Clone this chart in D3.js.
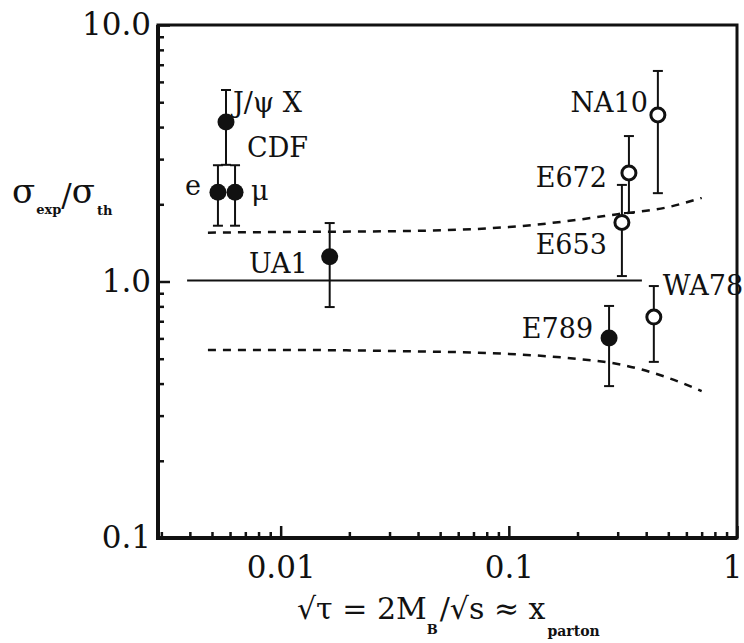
<!DOCTYPE html>
<html>
<head>
<meta charset="utf-8">
<script src="https://cdn.jsdelivr.net/npm/d3@7"></script>
<style>
  body { margin: 0; background: #fff; }
</style>
</head>
<body>
<script>
var width = 744, height = 643;
var FONT = "DejaVu Serif";

var names  = ["J/ψ X", "e", "μ", "UA1", "E789", "E653", "E672", "WA78", "NA10"];
var xVals  = [0.00576, 0.00531, 0.00631, 0.0164, 0.275, 0.313, 0.336, 0.432, 0.450];
var yVals  = [4.19, 2.23, 2.23, 1.25, 0.602, 1.70, 2.65, 0.727, 4.46];
var yLow   = [2.85, 1.65, 1.65, 0.795, 0.391, 1.05, 1.85, 0.486, 2.21];
var yHigh  = [5.58, 2.84, 2.84, 1.69, 0.803, 2.38, 3.69, 0.96, 6.62];
var filled = [true, true, true, true, true, false, false, false, false];

// theory band
var bandX     = [0.0048, 0.01, 0.03, 0.1, 0.2, 0.3, 0.5, 0.7];
var bandUpper = [1.55, 1.56, 1.57, 1.63, 1.74, 1.83, 1.95, 2.12];
var bandLower = [0.541, 0.541, 0.536, 0.522, 0.499, 0.477, 0.421, 0.374];
var centralX  = [0.00389, 0.383];
var centralY  = [1.01, 1.01];

var xTicks = [0.01, 0.1, 1], xTickLabels = ["0.01", "0.1", "1"];
var yTicks = [0.1, 1, 10],   yTickLabels = ["0.1", "1.0", "10.0"];

// label placement relative to each point (style only)
var labelPos = {
  "J/ψ X": {dx: 7,   dy: -10, anchor: "start"},
  "e":     {dx: -17, dy: 3,   anchor: "end"},
  "μ":     {dx: 16,  dy: 8,   anchor: "start"},
  "UA1":   {dx: -22, dy: 16,  anchor: "end"},
  "E789":  {dx: -16, dy: 0,   anchor: "end"},
  "E653":  {dx: -15, dy: 32,  anchor: "end"},
  "E672":  {dx: -22, dy: 14,  anchor: "end"},
  "WA78":  {dx: 9,   dy: -22, anchor: "start"},
  "NA10":  {dx: -10, dy: -3,  anchor: "end"}
};

var svg = d3.select("body").append("svg")
    .attr("width", width)
    .attr("height", height);

var x = d3.scaleLog().domain([0.0029, 1]).range([158, 737]);
var y = d3.scaleLog().domain([0.1, 10]).range([538, 25]);

// minor tick values
var xMinor = [], yMinor = [];
[0.001, 0.01, 0.1].forEach(function(d) {
  for (var k = 2; k <= 9; k++) if (d * k >= 0.0029) xMinor.push(d * k);
});
[0.1, 1].forEach(function(d) {
  for (var k = 2; k <= 9; k++) yMinor.push(d * k);
});

// frame
svg.append("rect")
    .attr("x", x.range()[0]).attr("y", y.range()[1])
    .attr("width", x.range()[1] - x.range()[0])
    .attr("height", y.range()[0] - y.range()[1])
    .attr("fill", "none").attr("stroke", "#111").attr("stroke-width", 3);

function styleAxis(g) {
  g.attr("font-family", FONT);
  g.select(".domain").remove();
  g.selectAll("line").attr("stroke", "#111").attr("stroke-width", 2.5);
  g.selectAll("text").attr("font-family", FONT).attr("font-size", 31).attr("fill", "#111");
}

svg.append("g").attr("transform", "translate(" + x.range()[0] + ",0)")
    .call(d3.axisLeft(y).tickValues(yMinor).tickSize(-6).tickFormat(""))
    .call(styleAxis);
svg.append("g").attr("transform", "translate(" + x.range()[0] + ",0)")
    .call(d3.axisLeft(y).tickValues(yTicks).tickSize(-12).tickPadding(7)
      .tickFormat(function(d, i) { return yTickLabels[i]; }))
    .call(styleAxis);

svg.append("g").attr("transform", "translate(0," + y.range()[0] + ")")
    .call(d3.axisBottom(x).tickValues(xMinor).tickSize(-6).tickFormat(""))
    .call(styleAxis);
var xAxisG = svg.append("g").attr("transform", "translate(0," + y.range()[0] + ")")
    .call(d3.axisBottom(x).tickValues(xTicks).tickSize(-12).tickPadding(18)
      .tickFormat(function(d, i) { return xTickLabels[i]; }))
    .call(styleAxis);
// keep the last label inside the page
xAxisG.selectAll("text").filter(function(d) { return d === 1; }).attr("dx", -5);

// heavier left and bottom axis lines
svg.append("line").attr("x1", x.range()[0]).attr("x2", x.range()[0])
    .attr("y1", y.range()[1]).attr("y2", y.range()[0] + 2)
    .attr("stroke", "#111").attr("stroke-width", 4);
svg.append("line").attr("x1", x.range()[0]).attr("x2", x.range()[1])
    .attr("y1", y.range()[0]).attr("y2", y.range()[0])
    .attr("stroke", "#111").attr("stroke-width", 4);

// theory curves
var line = d3.line()
    .x(function(d) { return x(d[0]); })
    .y(function(d) { return y(d[1]); })
    .curve(d3.curveMonotoneX);

svg.append("path")
    .attr("d", line(d3.zip(centralX, centralY)))
    .attr("fill", "none").attr("stroke", "#111").attr("stroke-width", 2);

[bandUpper, bandLower].forEach(function(b) {
  svg.append("path")
      .attr("d", line(d3.zip(bandX, b)))
      .attr("fill", "none").attr("stroke", "#111")
      .attr("stroke-width", 2.5).attr("stroke-dasharray", "8,7");
});

// data points
var pts = names.map(function(n, i) {
  return {name: n, x: xVals[i], y: yVals[i], lo: yLow[i], hi: yHigh[i], filled: filled[i]};
});

var pt = svg.append("g").selectAll("g")
  .data(pts)
  .enter().append("g");

pt.append("line")
    .attr("x1", function(d) { return x(d.x); })
    .attr("x2", function(d) { return x(d.x); })
    .attr("y1", function(d) { return y(d.lo); })
    .attr("y2", function(d) { return y(d.hi); })
    .attr("stroke", "#111").attr("stroke-width", 2);

pt.selectAll(".cap")
  .data(function(d) { return [[d.x, d.lo], [d.x, d.hi]]; })
  .enter().append("line")
    .attr("class", "cap")
    .attr("x1", function(d) { return x(d[0]) - 5; })
    .attr("x2", function(d) { return x(d[0]) + 5; })
    .attr("y1", function(d) { return y(d[1]); })
    .attr("y2", function(d) { return y(d[1]); })
    .attr("stroke", "#111").attr("stroke-width", 2);

pt.append("circle")
    .attr("cx", function(d) { return x(d.x); })
    .attr("cy", function(d) { return y(d.y); })
    .attr("r", function(d) { return d.filled ? 8.5 : 7; })
    .attr("fill", function(d) { return d.filled ? "#111" : "#fff"; })
    .attr("stroke", "#111")
    .attr("stroke-width", function(d) { return d.filled ? 0 : 3; });

pt.append("text")
    .attr("font-family", FONT)
    .attr("x", function(d) { return x(d.x) + labelPos[d.name].dx; })
    .attr("y", function(d) { return y(d.y) + labelPos[d.name].dy; })
    .attr("text-anchor", function(d) { return labelPos[d.name].anchor; })
    .attr("font-size", 27)
    .attr("fill", "#111")
    .text(function(d) { return d.name; });

// group label for the three CDF points
svg.append("text")
    .attr("font-family", FONT)
    .attr("x", x(xVals[0]) + 21).attr("y", y(yVals[0]) + 35)
    .attr("font-size", 27)
    .attr("fill", "#111")
    .text("CDF");

// y axis title
var yt = svg.append("text").attr("font-family", FONT).attr("fill", "#111")
    .attr("x", 12).attr("y", 203).attr("font-size", 34);
yt.append("tspan").text("σ");
yt.append("tspan").attr("font-size", 13).attr("font-weight", "bold").attr("dy", 11).attr("dx", 1).text("exp");
yt.append("tspan").attr("font-size", 31).attr("dy", -8).text("/");
yt.append("tspan").attr("dy", -3).text("σ");
yt.append("tspan").attr("font-size", 13).attr("font-weight", "bold").attr("dy", 12).attr("dx", 2).text("th");

// x axis title
var xt = svg.append("text").attr("font-family", FONT).attr("fill", "#111")
    .attr("x", 297).attr("y", 619).attr("font-size", 30);
xt.append("tspan").text("√τ = 2M");
xt.append("tspan").attr("font-size", 13).attr("font-weight", "bold").attr("dy", 15).text("B");
xt.append("tspan").attr("dy", -15).attr("dx", 2).text("/√s ≈ x");
xt.append("tspan").attr("font-size", 14).attr("font-weight", "bold").attr("dy", 17).attr("dx", 2).text("parton");
</script>
</body>
</html>
